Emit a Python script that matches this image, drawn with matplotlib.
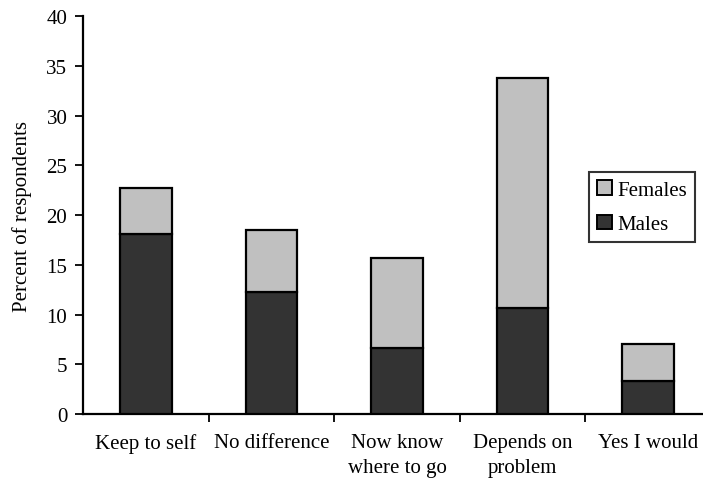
import matplotlib
matplotlib.use("Agg")
import matplotlib.pyplot as plt
from matplotlib.patches import Patch
import numpy as np

categories = ["Keep to self", "No difference", "Now know\nwhere to go", "Depends on\nproblem", "Yes I would"]
males = [18.1, 12.3, 6.6, 10.7, 3.3]
females = [4.6, 6.2, 9.1, 23.1, 3.7]
yticks = [0, 5, 10, 15, 20, 25, 30, 35, 40]

plt.rcParams['font.family'] = ['Liberation Serif', 'DejaVu Serif']
FS = 15

fig = plt.figure(figsize=(7.03, 4.89), dpi=100)
ax = fig.add_axes([83.3/703, 74/489, 627.5/703, 397.7/489])

x = np.arange(len(categories))
w = 0.41
ax.bar(x, males, w, color="#333333", edgecolor="black", linewidth=1.6, label="Males", zorder=3)
ax.bar(x, females, w, bottom=males, color="#c0c0c0", edgecolor="black", linewidth=1.6, label="Females", zorder=3)

ax.set_xlim(-0.5, len(categories) - 0.5)
ax.set_ylim(0, 40)
ax.set_yticks(yticks)
ax.set_yticklabels([str(t) for t in yticks], fontsize=FS)
ax.set_xticks(x)
ax.set_xticklabels(categories, fontsize=FS, linespacing=1.4)
ax.set_xticks(np.arange(0.5, len(categories), 1.0), minor=True)
ax.tick_params(axis='x', which='major', length=0, pad=14)
ax.tick_params(axis='x', which='minor', length=5.5, width=1.3, direction='out')
ax.tick_params(axis='y', length=5.5, width=1.3, direction='out', pad=6)

for s in ['top', 'right']:
    ax.spines[s].set_visible(False)
for s in ['left', 'bottom']:
    ax.spines[s].set_linewidth(1.6)

ax.set_ylabel("Percent of respondents", fontsize=FS)
ax.yaxis.set_label_coords(-51/627.5, 0.5)

handles = [Patch(facecolor="#c0c0c0", edgecolor="black", linewidth=1.4, label="Females"),
           Patch(facecolor="#333333", edgecolor="black", linewidth=1.4, label="Males")]
leg = fig.legend(handles=handles, loc='upper left', bbox_to_anchor=(589/703, 1 - 173/489),
                 fontsize=FS, frameon=True, fancybox=False, edgecolor='black',
                 handlelength=0.7, handleheight=0.7, handletextpad=0.25,
                 borderpad=0.4, labelspacing=0.7, borderaxespad=0)
leg.get_frame().set_linewidth(1.5)

fig.savefig("out.png", dpi=100)
